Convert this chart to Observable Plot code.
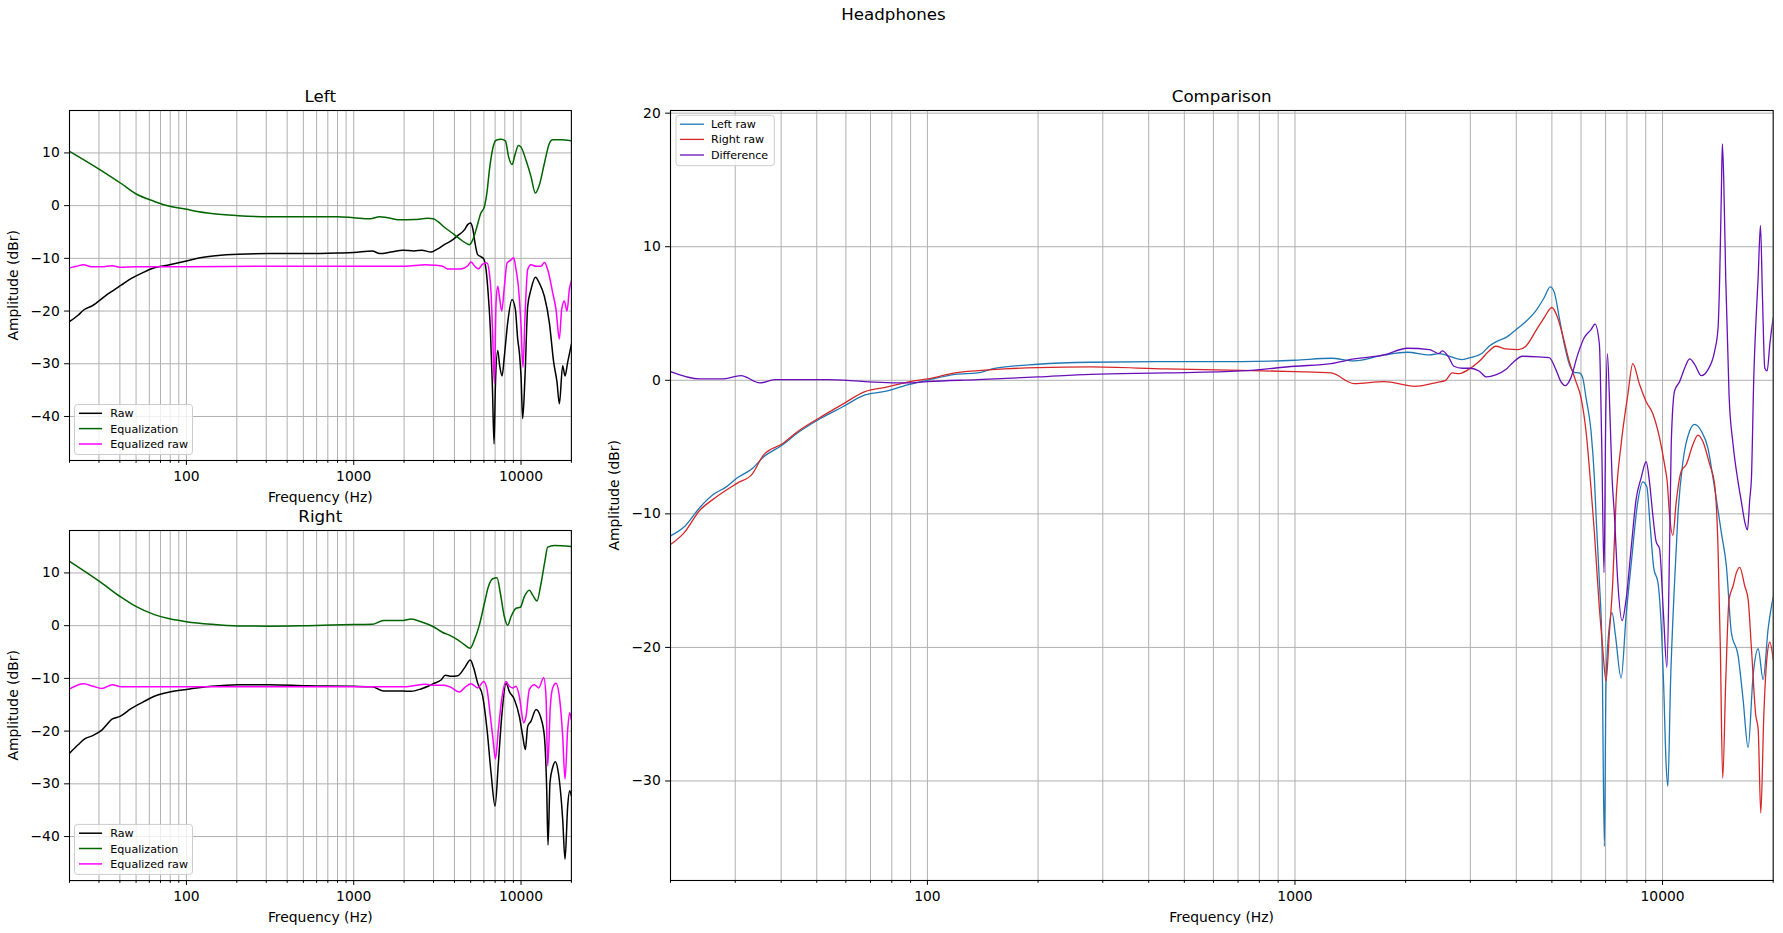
<!DOCTYPE html>
<html>
<head>
<meta charset="utf-8">
<script src="https://cdn.jsdelivr.net/npm/d3@7"></script>
<script src="https://cdn.jsdelivr.net/npm/@observablehq/plot@0.6"></script>
<style>
  body { margin: 0; background: #fff; }
  #fig { position: relative; width: 1783px; height: 933px; overflow: hidden; background: #fff; font-family: "DejaVu Sans", sans-serif; }
  #fig svg { position: absolute; }
</style>
</head>
<body>
<div id="fig"></div>
<script>
// ---------- tick / label arrays ----------
const majorTicks = [100, 1000, 10000];
const minorTicks = [20, 30, 40, 50, 60, 70, 80, 90, 200, 300, 400, 500, 600, 700, 800, 900,
  2000, 3000, 4000, 5000, 6000, 7000, 8000, 9000, 20000];
const gridFreqs = [30, 40, 50, 60, 70, 80, 90, 100, 200, 300, 400, 500, 600, 700, 800, 900,
  1000, 2000, 3000, 4000, 5000, 6000, 7000, 8000, 9000, 10000];
const earYTicks = [10, 0, -10, -20, -30, -40];
const compYTicks = [20, 10, 0, -10, -20, -30];
const earYDomain = [-48.35, 18.05];
const compYDomain = [-37.45, 20.2];

// ---------- Left ear ----------
const leftRawHz = [20, 22.5, 24.3, 27.7, 32.5, 36.1, 40.7, 46.9, 54.9, 64.3, 79.3, 100, 121, 149, 204, 311, 527, 801, 1000, 1290, 1430, 1670, 1970, 2300, 2550, 2899, 3177, 3481, 3816, 4183, 4585, 4801, 4980, 5143, 5311, 5508, 5767, 5983, 6178, 6380, 6558, 6742, 6899, 7027, 7257, 7459, 7703, 7953, 8324, 8835, 9250, 9552, 9773, 10000, 10232, 10566, 10961, 11475, 12180, 12870, 13788, 14767, 15673, 16410, 16946, 17742, 18323, 19010, 20000];
const leftRawDb = [-22.0, -20.8, -19.8, -18.9, -17.2, -16.2, -15.1, -13.8, -12.7, -11.8, -11.2, -10.5, -9.9, -9.5, -9.2, -9.1, -9.1, -9.0, -8.9, -8.6, -9.1, -8.8, -8.45, -8.6, -8.45, -8.8, -8.2, -7.4, -6.7, -5.7, -4.6, -3.6, -3.3, -4.3, -7.1, -9.3, -9.7, -10.1, -12.1, -17.2, -23.5, -34.2, -45.2, -34.2, -27.5, -30.4, -32.3, -28.5, -22.2, -17.8, -19.7, -25.3, -27.9, -32.3, -40.4, -32.3, -19.1, -15.9, -13.6, -14.7, -17.2, -22.2, -29.7, -33.5, -37.6, -30.4, -32.3, -29.7, -26.3];

const leftEqHz = [20, 30.5, 40.7, 49.5, 64.3, 75.3, 100, 141, 204, 311, 527, 801, 1000, 1253, 1430, 1590, 1918, 2300, 2769, 2993, 3177, 3481, 3996, 4379, 4801, 4912, 5143, 5384, 5757, 6038, 6264, 6469, 6773, 7092, 7597, 8063, 8439, 8835, 9250, 9640, 10000, 10712, 11475, 12180, 12870, 13788, 14767, 15459, 17338, 20000];
const leftEqDb = [10.3, 6.8, 4.2, 2.3, 0.8, 0.06, -0.7, -1.5, -1.9, -2.1, -2.1, -2.1, -2.3, -2.5, -2.1, -2.3, -2.7, -2.65, -2.4, -2.5, -3.0, -4.1, -5.5, -6.5, -7.3, -7.4, -6.5, -4.6, -1.4, -0.2, 2.6, 6.7, 10.8, 12.4, 12.6, 12.3, 9.2, 7.8, 9.9, 11.4, 11.1, 8.6, 5.5, 2.4, 3.9, 8.0, 11.8, 12.5, 12.5, 12.3];

const leftEqRawHz = [20, 22, 24.3, 27, 31, 36, 40, 50, 100, 300, 1000, 2000, 2700, 3034, 3402, 3645, 4379, 4801, 5026, 5262, 5559, 5901, 6264, 6469, 6619, 6773, 6931, 7092, 7257, 7425, 7667, 7953, 8248, 8714, 9040, 9335, 9640, 10000, 10279, 10566, 10961, 11475, 12292, 13169, 13788, 14434, 15459, 16186, 16946, 17498, 18155, 18836, 19450, 20000];
const leftEqRawDb = [-11.8, -11.5, -11.2, -11.6, -11.6, -11.4, -11.7, -11.6, -11.6, -11.5, -11.5, -11.5, -11.2, -11.3, -11.5, -12.0, -12.0, -11.4, -10.7, -11.4, -12.0, -11.1, -10.9, -12.8, -16.5, -24.7, -33.8, -18.4, -15.3, -17.2, -20.0, -15.3, -10.9, -10.3, -9.9, -12.1, -15.3, -22.8, -30.7, -20.9, -12.1, -11.2, -11.5, -11.5, -10.8, -12.1, -16.5, -19.7, -25.3, -19.7, -18.1, -20.0, -15.9, -14.3];

// ---------- Right ear ----------
const rightRawHz = [20, 22.5, 24.3, 27.7, 31.2, 36.1, 40.1, 46.9, 54.9, 64.3, 79.3, 100, 141, 204, 311, 527, 1000, 1290, 1510, 1970, 2201, 2526, 2993, 3326, 3530, 3816, 4183, 4585, 4980, 5214, 5508, 5901, 6264, 6619, 6995, 7323, 7667, 8137, 8517, 9125, 9773, 10232, 10614, 10961, 11475, 12292, 13048, 13788, 14238, 14500, 14903, 15459, 16038, 16714, 17742, 18323, 19010, 19540, 20000];
const rightRawDb = [-24.2, -22.6, -21.6, -20.8, -19.8, -17.7, -17.2, -15.7, -14.5, -13.4, -12.6, -12.1, -11.5, -11.2, -11.2, -11.4, -11.5, -11.6, -12.4, -12.4, -12.45, -12.0, -11.0, -10.3, -9.4, -9.6, -9.5, -8.05, -6.5, -8.05, -10.9, -13.4, -19.7, -27.9, -34.2, -26.0, -17.2, -10.9, -12.5, -14.0, -17.2, -20.9, -23.5, -19.1, -18.1, -15.9, -17.2, -20.9, -31.0, -41.6, -29.7, -26.9, -25.8, -27.9, -36.7, -44.3, -34.2, -31.3, -32.3];

const rightEqHz = [20, 30.5, 40.7, 49.5, 64.3, 79.3, 100, 141, 204, 311, 527, 1000, 1290, 1510, 1970, 2201, 2526, 2993, 3402, 3729, 4183, 4585, 4958, 5262, 5636, 6038, 6380, 6773, 7190, 7528, 7953, 8324, 8714, 9335, 9909, 10469, 11215, 11741, 12463, 13169, 13915, 14434, 15818, 20000];
const rightEqDb = [12.2, 8.3, 5.4, 3.7, 2.1, 1.3, 0.75, 0.25, -0.06, -0.1, 0.0, 0.2, 0.25, 1.0, 1.0, 1.25, 0.75, -0.2, -1.3, -1.8, -2.7, -3.6, -4.3, -2.7, 0.1, 4.2, 7.4, 8.9, 9.1, 6.1, 1.7, 0.1, 1.7, 3.3, 3.5, 5.5, 6.7, 5.8, 4.7, 8.0, 12.4, 14.9, 15.2, 15.0];

const rightEqRawHz = [20, 24.3, 27.7, 31.2, 36.1, 40.7, 60, 100, 300, 1000, 2000, 2706, 2993, 3481, 3816, 4280, 4585, 5026, 5508, 5983, 6264, 6558, 6836, 7027, 7323, 7667, 8137, 8517, 8917, 9335, 9773, 10374, 10712, 11215, 12013, 12753, 13662, 14108, 14434, 14972, 15459, 16186, 16946, 17742, 18323, 19010, 19540, 20000];
const rightEqRawDb = [-12.0, -11.0, -11.5, -11.9, -11.2, -11.6, -11.6, -11.6, -11.6, -11.6, -11.6, -11.1, -11.3, -11.3, -11.7, -12.6, -11.8, -11.0, -11.8, -10.6, -12.1, -17.2, -22.2, -25.3, -19.7, -14.0, -10.6, -11.5, -11.8, -11.5, -13.4, -18.4, -17.2, -12.1, -11.2, -11.8, -9.9, -13.4, -26.6, -15.3, -11.8, -10.9, -13.4, -20.9, -29.1, -19.7, -16.5, -17.8];

// ---------- Comparison ----------
const compLeftHz = [20, 21.8, 24, 26.3, 28.3, 30.4, 33.4, 35.8, 40.3, 44.3, 50.9, 58.7, 67.6, 77.9, 85.6, 100, 119, 137, 150, 200, 278, 446, 714, 1000, 1254, 1448, 1750, 2020, 2320, 2464, 2853, 3000, 3236, 3373, 3592, 3746, 4000, 4247, 4520, 4767, 4948, 5074, 5236, 5403, 5576, 5753, 5937, 6063, 6191, 6389, 6525, 6593, 6733, 6846, 6946, 7019, 7139, 7290, 7445, 7715, 7960, 8214, 8564, 8837, 9063, 9255, 9470, 9711, 9875, 10063, 10233, 10340, 10515, 10783, 11011, 11362, 11849, 12226, 12749, 13295, 13718, 14008, 14454, 14917, 15393, 16050, 16564, 17093, 17637, 18202, 18781, 19378, 20000];
const compLeftDb = [-11.65, -10.97, -9.54, -8.5, -8.0, -7.3, -6.6, -5.75, -4.85, -3.95, -2.9, -2.0, -1.1, -0.8, -0.45, 0.0, 0.45, 0.55, 0.85, 1.2, 1.35, 1.4, 1.4, 1.5, 1.65, 1.45, 1.9, 2.1, 1.9, 2.0, 1.55, 1.7, 2.05, 2.55, 3.0, 3.2, 3.8, 4.4, 5.2, 6.2, 7.0, 6.6, 4.7, 2.7, 1.2, 0.6, 0.55, 0.2, -1.3, -3.8, -7.3, -10.1, -15.1, -20.1, -34.9, -22.6, -18.9, -17.4, -19.1, -22.3, -17.6, -13.8, -9.1, -7.6, -7.98, -10.9, -14.1, -15.1, -17.4, -22.6, -28.9, -30.4, -22.6, -15.1, -10.1, -6.1, -3.8, -3.3, -3.8, -5.1, -7.3, -8.9, -11.4, -13.9, -18.9, -20.6, -23.9, -27.5, -22.1, -20.1, -22.4, -18.6, -16.2];

const compRightHz = [20, 21.8, 24, 26.3, 30.4, 33.4, 35.8, 40.3, 44.3, 50.9, 58.7, 67.6, 77.9, 89.7, 100, 119, 150, 200, 278, 446, 714, 1000, 1254, 1448, 1750, 2120, 2440, 2569, 2679, 2794, 3000, 3168, 3373, 3518, 3746, 4057, 4247, 4520, 4767, 5000, 5181, 5347, 5576, 5814, 6000, 6191, 6389, 6525, 6733, 6875, 7019, 7168, 7321, 7476, 7715, 8044, 8301, 8656, 9025, 9410, 9813, 10126, 10297, 10450, 10670, 10896, 11244, 11603, 12098, 12484, 12883, 13434, 13863, 14158, 14365, 14577, 14855, 15170, 15556, 15885, 16221, 16737, 17093, 17455, 17936, 18202, 18507, 18859, 19257, 19584, 20000];
const compRightDb = [-12.3, -11.4, -9.75, -8.85, -7.7, -7.0, -5.6, -4.75, -3.85, -2.8, -1.8, -0.85, -0.5, -0.1, 0.1, 0.55, 0.8, 0.95, 1.0, 0.85, 0.75, 0.65, 0.55, -0.25, -0.1, -0.45, -0.15, 0.0, 0.55, 0.5, 0.9, 1.4, 2.2, 2.55, 2.35, 2.3, 2.55, 3.7, 4.7, 5.45, 4.7, 3.4, 1.4, -0.1, -1.3, -3.8, -8.1, -11.4, -17.1, -20.1, -22.5, -18.9, -15.1, -8.9, -4.8, -1.1, 1.25, -0.3, -1.6, -2.5, -4.3, -6.3, -7.6, -10.1, -11.6, -9.1, -6.8, -6.3, -4.8, -4.1, -4.6, -6.3, -7.8, -12.6, -20.1, -29.8, -22.6, -16.4, -15.4, -14.4, -14.0, -15.4, -16.4, -20.1, -25.1, -26.1, -32.4, -25.1, -20.6, -19.6, -20.9];

const compDiffHz = [20, 24, 27.6, 31.1, 35, 38.4, 53.4, 67.6, 89.7, 100, 137, 200, 278, 446, 714, 1000, 1254, 1448, 1750, 2020, 2320, 2464, 2516, 2623, 2707, 2853, 3000, 3168, 3317, 3518, 3746, 3906, 4159, 4616, 4917, 5127, 5291, 5437, 5634, 5875, 6127, 6389, 6552, 6733, 6832, 6932, 7004, 7079, 7198, 7290, 7398, 7555, 7762, 7960, 8214, 8476, 8746, 9025, 9215, 9410, 9610, 9813, 10063, 10276, 10450, 10559, 10783, 11128, 11482, 11849, 12226, 12749, 13295, 13863, 14158, 14305, 14454, 14546, 14668, 14855, 15170, 15556, 16050, 16390, 16737, 17022, 17271, 17455, 17711, 18011, 18202, 18468, 18703, 18978, 19257, 19584, 20000];
const compDiffDb = [0.65, 0.1, 0.1, 0.35, -0.2, 0.05, 0.05, -0.1, -0.2, -0.1, 0.05, 0.25, 0.45, 0.55, 0.7, 1.05, 1.25, 1.6, 1.9, 2.4, 2.3, 2.0, 2.2, 1.7, 1.05, 0.9, 0.9, 0.7, 0.25, 0.4, 0.8, 1.3, 1.8, 1.75, 1.7, 0.8, -0.1, -0.4, 0.2, 1.9, 3.2, 3.8, 4.2, 2.7, -4.8, -14.4, -3.0, 2.0, -2.8, -7.3, -10.1, -15.1, -18.0, -16.4, -12.6, -8.9, -7.3, -6.1, -7.6, -10.1, -12.1, -12.6, -17.6, -21.5, -12.6, -4.8, -0.8, -0.1, 0.9, 1.6, 1.2, 0.35, 0.8, 2.2, 3.9, 7.7, 14.0, 17.7, 15.2, 7.7, -1.1, -4.8, -7.6, -9.1, -10.6, -11.2, -8.9, -7.3, 0.2, 5.2, 7.7, 11.6, 6.2, 0.9, 0.7, 2.7, 4.7];

// ---------- helpers ----------
const rows = (hz, db) => hz.map((f, i) => ({ f, v: db[i] }));
const fig = document.getElementById("fig");
const FONT = '"DejaVu Sans", sans-serif';

function panel({ x0, x1, y0, y1, yDomain, yTicks, series, sw }) {
  const mL = 60, mR = 12, mT = 12, mB = 32;
  const chart = Plot.plot({
    width: x1 - x0 + mL + mR,
    height: y1 - y0 + mT + mB,
    marginLeft: mL, marginRight: mR, marginTop: mT, marginBottom: mB,
    style: { fontFamily: FONT, fontSize: "13.9px", background: "transparent", color: "black", overflow: "visible" },
    x: { type: "log", domain: [20, 20000] },
    y: { domain: yDomain },
    marks: [
      Plot.ruleX(gridFreqs, { stroke: "#b0b0b0", strokeWidth: 1 }),
      Plot.ruleY(yTicks, { stroke: "#b0b0b0", strokeWidth: 1 }),
      ...series.map(s => Plot.line(rows(s.hz, s.db), { x: "f", y: "v", stroke: s.color, strokeWidth: sw, curve: "monotone-x", clip: true })),
      Plot.frame({ stroke: "black", strokeWidth: 1.1 }),
      Plot.axisX(minorTicks, { tickSize: 2.8, tickFormat: () => "", label: null }),
      Plot.axisX(majorTicks, { tickSize: 4.9, tickPadding: 5.8, tickFormat: d => String(d), label: null }),
      Plot.axisY(yTicks, { tickSize: 4.9, tickPadding: 4.9, label: null })
    ]
  });
  chart.style.left = (x0 - mL) + "px";
  chart.style.top = (y0 - mT) + "px";
  fig.appendChild(chart);
}

const C = { raw: "black", eq: "darkgreen", eqraw: "magenta", L: "#1f77b4", R: "#d62728", D: "#680fb9" };

const leftBox = { x0: 69.3, x1: 571.2, y0: 110.3, y1: 460.3 };
const rightBox = { x0: 69.3, x1: 571.2, y0: 530.2, y1: 880.3 };
const compBox = { x0: 670.3, x1: 1773, y0: 110.3, y1: 880.3 };

panel({ ...leftBox, yDomain: earYDomain, yTicks: earYTicks, sw: 1.5, series: [
  { hz: leftRawHz, db: leftRawDb, color: C.raw },
  { hz: leftEqHz, db: leftEqDb, color: C.eq },
  { hz: leftEqRawHz, db: leftEqRawDb, color: C.eqraw }
]});
panel({ ...rightBox, yDomain: earYDomain, yTicks: earYTicks, sw: 1.5, series: [
  { hz: rightRawHz, db: rightRawDb, color: C.raw },
  { hz: rightEqHz, db: rightEqDb, color: C.eq },
  { hz: rightEqRawHz, db: rightEqRawDb, color: C.eqraw }
]});
panel({ ...compBox, yDomain: compYDomain, yTicks: compYTicks, sw: 1.3, series: [
  { hz: compLeftHz, db: compLeftDb, color: C.L },
  { hz: compRightHz, db: compRightDb, color: C.R },
  { hz: compDiffHz, db: compDiffDb, color: C.D }
]});

// ---------- overlay: titles, axis labels, legends ----------
const ov = d3.create("svg").attr("width", 1783).attr("height", 933)
  .style("left", "0px").style("top", "0px").style("pointer-events", "none")
  .attr("font-family", FONT);

function text(x, y, s, size, anchor = "middle", rotate = false) {
  const t = ov.append("text").attr("x", x).attr("y", y).attr("font-size", size)
    .attr("text-anchor", anchor).attr("fill", "black").text(s);
  if (rotate) t.attr("transform", `rotate(-90 ${x} ${y})`);
}
text(893.5, 20, "Headphones", "16.67px");
for (const [b, name] of [[leftBox, "Left"], [rightBox, "Right"], [compBox, "Comparison"]]) {
  const cx = (b.x0 + b.x1) / 2, cy = (b.y0 + b.y1) / 2;
  text(cx, b.y0 - 8.5, name, "16.67px");
  text(cx, b.y1 + 41.5, "Frequency (Hz)", "13.9px");
  text(b.x0 - 51.2, cy, "Amplitude (dBr)", "13.9px", "middle", true);
}

function legend(bx, by, bw, bh, rowY, swX0, swX1, txtX, items, sw) {
  ov.append("rect").attr("x", bx).attr("y", by).attr("width", bw).attr("height", bh)
    .attr("rx", 3).attr("fill", "white").attr("fill-opacity", 0.8)
    .attr("stroke", "#cccccc").attr("stroke-width", 1);
  items.forEach((it, i) => {
    ov.append("line").attr("x1", swX0).attr("x2", swX1).attr("y1", rowY[i]).attr("y2", rowY[i])
      .attr("stroke", it.color).attr("stroke-width", sw);
    ov.append("text").attr("x", txtX).attr("y", rowY[i] + 4).attr("font-size", "11.1px").attr("fill", "black").text(it.label);
  });
}
const earItems = [
  { label: "Raw", color: C.raw }, { label: "Equalization", color: C.eq }, { label: "Equalized raw", color: C.eqraw }
];
legend(74.5, 404.5, 118, 50, [413.3, 428.6, 444], 79, 102, 110.3, earItems, 1.5);
legend(74.5, 824.4, 118, 50, [833.2, 848.5, 863.9], 79, 102, 110.3, earItems, 1.5);
legend(676, 115.3, 98.3, 50.4, [124.2, 139.4, 155], 680, 704, 711, [
  { label: "Left raw", color: C.L }, { label: "Right raw", color: C.R }, { label: "Difference", color: C.D }
], 1.3);

fig.appendChild(ov.node());
</script>
</body>
</html>
